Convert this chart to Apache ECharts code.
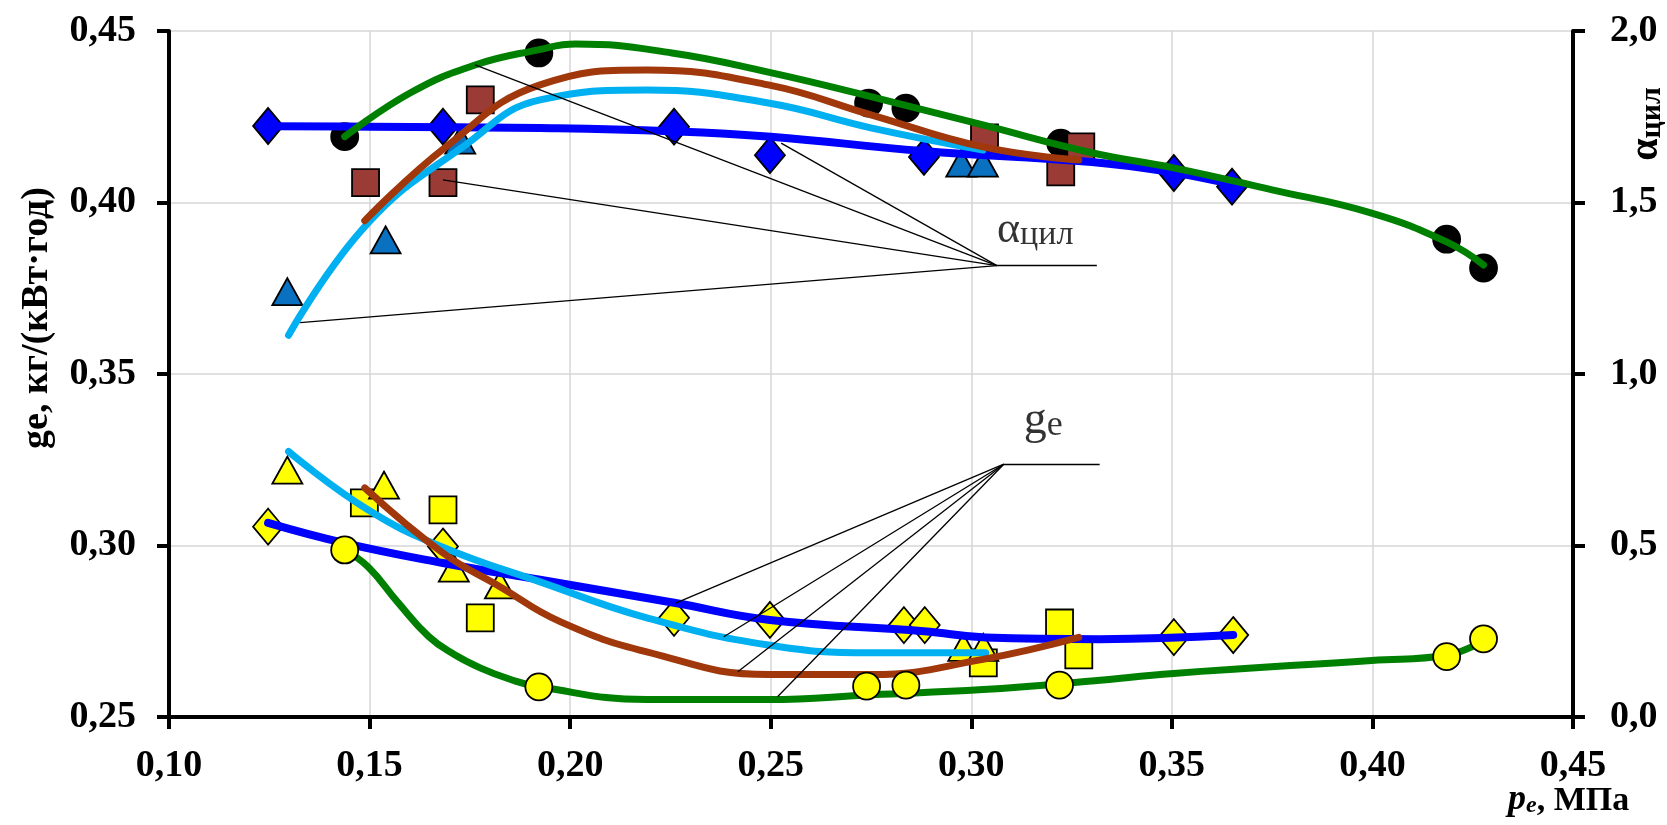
<!DOCTYPE html>
<html>
<head>
<meta charset="utf-8">
<script src="https://cdn.jsdelivr.net/npm/echarts@6.0.0/dist/echarts.min.js"></script>
<style>
  html, body { margin: 0; padding: 0; background: #fff; }
  #chart { width: 1667px; height: 825px; }
</style>
</head>
<body>
<div id="chart"></div>
<script>
// --- α цил (right axis) measured points ---
const alphaDiamondX = [0.1247, 0.1683, 0.2259, 0.2498, 0.2882, 0.3505, 0.365];
const alphaDiamondY = [1.723, 1.721, 1.721, 1.638, 1.633, 1.586, 1.546];
const alphaCircleX = [0.1438, 0.1922, 0.2744, 0.2837, 0.3223, 0.4185, 0.4277];
const alphaCircleY = [1.692, 1.936, 1.790, 1.775, 1.673, 1.393, 1.309];
const alphaSquareX = [0.149, 0.1683, 0.1776, 0.3033, 0.3223, 0.3273];
const alphaSquareY = [1.558, 1.558, 1.799, 1.688, 1.589, 1.662];
const alphaTriangleX = [0.1295, 0.154, 0.1726, 0.2975, 0.3029];
const alphaTriangleY = [1.24, 1.391, 1.682, 1.615, 1.615];

// α trend curves
const alphaBlueCurveX = [0.1247, 0.15, 0.1924, 0.225, 0.25, 0.288, 0.33, 0.35, 0.365];
const alphaBlueCurveY = [1.722, 1.721, 1.717, 1.708, 1.692, 1.650, 1.618, 1.588, 1.553];
const alphaGreenCurveX = [0.1438, 0.1602, 0.1763, 0.192, 0.2014, 0.2254, 0.2494, 0.2752, 0.3029, 0.33, 0.3504, 0.375, 0.3998, 0.4185, 0.4277];
const alphaGreenCurveY = [1.692, 1.82, 1.901, 1.945, 1.962, 1.936, 1.880, 1.808, 1.726, 1.645, 1.601, 1.537, 1.469, 1.385, 1.318];
const alphaBrownCurveX = [0.1488, 0.169, 0.1925, 0.2191, 0.2494, 0.2752, 0.3029, 0.3268];
const alphaBrownCurveY = [1.447, 1.662, 1.843, 1.886, 1.843, 1.755, 1.662, 1.624];
const alphaCyanCurveX = [0.1298, 0.1496, 0.1736, 0.1925, 0.2191, 0.2494, 0.2752, 0.3029];
const alphaCyanCurveY = [1.113, 1.44, 1.665, 1.799, 1.828, 1.790, 1.717, 1.653];

// --- ge (left axis) measured points ---
const geDiamondX = [0.1247, 0.1683, 0.2259, 0.2498, 0.2832, 0.2884, 0.3505, 0.3653];
const geDiamondY = [0.3055, 0.2997, 0.2789, 0.2783, 0.2768, 0.2768, 0.2733, 0.2739];
const geCircleX = [0.1438, 0.1922, 0.2739, 0.2837, 0.322, 0.4185, 0.4277];
const geCircleY = [0.2987, 0.2588, 0.2590, 0.2593, 0.2593, 0.2676, 0.2728];
const geSquareX = [0.1487, 0.1683, 0.1776, 0.303, 0.322, 0.3268];
const geSquareY = [0.3124, 0.3104, 0.2789, 0.2658, 0.2774, 0.2681];
const geTriangleX = [0.1295, 0.1536, 0.171, 0.1825, 0.298, 0.303];
const geTriangleY = [0.322, 0.3176, 0.2934, 0.2885, 0.2703, 0.2703];

// ge trend curves
const geBlueCurveX = [0.1247, 0.1438, 0.1683, 0.1925, 0.2259, 0.2498, 0.2882, 0.3036, 0.332, 0.3653];
const geBlueCurveY = [0.3066, 0.3007, 0.2949, 0.290, 0.2833, 0.2783, 0.2750, 0.2732, 0.2727, 0.2739];
const geGreenCurveX = [0.1438, 0.1496, 0.157, 0.1647, 0.171, 0.178, 0.185, 0.1922, 0.2191, 0.2494, 0.2752, 0.3029, 0.33, 0.3504, 0.3998, 0.4185, 0.4277];
const geGreenCurveY = [0.2987, 0.2938, 0.2835, 0.2735, 0.2683, 0.2641, 0.2610, 0.2588, 0.2551, 0.2551, 0.2565, 0.2580, 0.2605, 0.2627, 0.2665, 0.2680, 0.2723];
const geBrownCurveX = [0.1488, 0.1683, 0.1825, 0.1975, 0.2191, 0.2494, 0.2752, 0.3029, 0.3268];
const geBrownCurveY = [0.3168, 0.2978, 0.288, 0.2778, 0.2690, 0.2624, 0.2624, 0.2668, 0.2732];
const geCyanCurveX = [0.1298, 0.1496, 0.1683, 0.1925, 0.2191, 0.2494, 0.2752, 0.3036];
const geCyanCurveY = [0.3274, 0.3104, 0.2995, 0.2894, 0.2789, 0.271, 0.2687, 0.2687];

// leader lines for the two labels
const alphaLeaderFromX = [0.1763, 0.2526, 0.1683, 0.1327];
const alphaLeaderFromY = [1.901, 1.673, 1.566, 1.150];
const alphaHub = [0.3064, 1.316];
const alphaTailX = 0.3313;
const alphaLabelAt = [0.3064, 1.42];
const geLeaderFromX = [0.2263, 0.2383, 0.2418, 0.2517];
const geLeaderFromY = [0.2832, 0.2734, 0.2632, 0.2559];
const geHub = [0.3081, 0.3237];
const geTailX = 0.332;
const geLabelAt = [0.3131, 0.3363];

// axis ticks
const xTicks = { min: 0.10, max: 0.45, step: 0.05 };
const geTicks = { min: 0.25, max: 0.45, step: 0.05 };
const alphaTicks = { min: 0, max: 2.0, step: 0.5 };

const serif = '"Liberation Serif", "DejaVu Serif", serif';
const zip = (xs, ys) => xs.map((x, i) => [x, ys[i]]);
const comma = d => v => v.toFixed(d).replace('.', ',');

function markers(xs, ys, axis, symbol, size, color, z) {
  return {
    type: 'scatter', yAxisIndex: axis, symbol: symbol, symbolSize: size, z: z,
    silent: true, data: zip(xs, ys),
    itemStyle: { color: color, borderColor: '#000', borderWidth: 1.8, opacity: 1 }
  };
}
function curve(xs, ys, axis, color, width, z) {
  return {
    type: 'line', yAxisIndex: axis, smooth: 0.45, showSymbol: false, z: z,
    silent: true, data: zip(xs, ys),
    lineStyle: { color: color, width: width, cap: 'round', join: 'round' }
  };
}
function leaders(fx, fy, hub, tailX, axis) {
  const segs = fx.map((x, i) => ({ coords: [[x, fy[i]], hub] }));
  segs.push({ coords: [hub, [tailX, hub[1]]] });
  return {
    type: 'lines', coordinateSystem: 'cartesian2d', yAxisIndex: axis, z: 6,
    silent: true, data: segs, lineStyle: { color: '#000', width: 1.3, opacity: 1 }
  };
}
function textAt(pos, axis, fmt, rich) {
  return {
    type: 'scatter', yAxisIndex: axis, symbolSize: 0, z: 7, silent: true,
    data: [pos],
    label: { show: true, position: 'right', distance: 0, color: '#000', formatter: fmt, rich: rich }
  };
}

const axisCommon = {
  axisLine: { show: true, lineStyle: { color: '#000', width: 4 } },
  axisTick: { show: true, length: 12, lineStyle: { color: '#000', width: 4 } },
  axisLabel: { color: '#000', fontFamily: serif, fontWeight: 'bold', fontSize: 38 }
};

const chart = echarts.init(document.getElementById('chart'));
chart.setOption({
  animation: false,
  backgroundColor: '#fff',
  grid: { left: 169, right: 94, top: 31, bottom: 108 },
  xAxis: {
    type: 'value', min: xTicks.min, max: xTicks.max, interval: xTicks.step,
    axisLine: axisCommon.axisLine, axisTick: axisCommon.axisTick,
    axisLabel: Object.assign({}, axisCommon.axisLabel, { margin: 30, formatter: comma(2) }),
    splitLine: { show: true, lineStyle: { color: '#d6d6d6', width: 1.5 } }
  },
  yAxis: [
    {
      type: 'value', position: 'left', min: geTicks.min, max: geTicks.max, interval: geTicks.step,
      axisLine: axisCommon.axisLine, axisTick: axisCommon.axisTick,
      axisLabel: Object.assign({}, axisCommon.axisLabel, { margin: 33, formatter: comma(2) }),
      splitLine: { show: true, lineStyle: { color: '#d6d6d6', width: 1.5 } }
    },
    {
      type: 'value', position: 'right', min: alphaTicks.min, max: alphaTicks.max, interval: alphaTicks.step,
      axisLine: axisCommon.axisLine, axisTick: axisCommon.axisTick,
      axisLabel: Object.assign({}, axisCommon.axisLabel, { margin: 37, formatter: comma(1) }),
      splitLine: { show: false }
    }
  ],
  graphic: [
    {
      type: 'text', x: 37, y: 318, rotation: Math.PI / 2,
      style: {
        text: 'ge, кг/(кВт·год)', fill: '#000', align: 'center', verticalAlign: 'middle',
        font: 'bold 38px ' + serif
      }
    },
    {
      type: 'text', x: 1647, y: 124, rotation: Math.PI / 2,
      style: {
        text: '{a|α}{s|цил}', align: 'center', verticalAlign: 'middle',
        rich: {
          a: { fontFamily: serif, fontWeight: 'bold', fontSize: 40, lineHeight: 40, verticalAlign: 'bottom', fill: '#000' },
          s: { fontFamily: serif, fontWeight: 'bold', fontSize: 30, lineHeight: 22, verticalAlign: 'bottom', fill: '#000' }
        }
      }
    },
    {
      type: 'text', x: 1508, y: 800,
      style: {
        text: '{p|p}{e|e}{m|, МПа}', align: 'left', verticalAlign: 'middle',
        rich: {
          p: { fontFamily: serif, fontStyle: 'italic', fontWeight: 'bold', fontSize: 36, lineHeight: 36, verticalAlign: 'bottom', fill: '#000' },
          e: { fontFamily: serif, fontStyle: 'italic', fontWeight: 'bold', fontSize: 24, lineHeight: 18, verticalAlign: 'bottom', fill: '#000' },
          m: { fontFamily: serif, fontWeight: 'bold', fontSize: 34, lineHeight: 36, verticalAlign: 'bottom', fill: '#000' }
        }
      }
    }
  ],
  series: [
    // α markers
    markers(alphaDiamondX, alphaDiamondY, 1, 'diamond', [30, 36], '#0000ff', 2),
    markers(alphaCircleX, alphaCircleY, 1, 'circle', 27, '#000000', 2),
    markers(alphaSquareX, alphaSquareY, 1, 'rect', 27, '#9a3b35', 2),
    markers(alphaTriangleX, alphaTriangleY, 1, 'triangle', [30, 27], '#0a70c0', 2),
    // α curves
    curve(alphaBlueCurveX, alphaBlueCurveY, 1, '#0000ff', 8, 3),
    curve(alphaCyanCurveX, alphaCyanCurveY, 1, '#00b0f0', 7, 3),
    curve(alphaBrownCurveX, alphaBrownCurveY, 1, '#a0380c', 7, 3),
    curve(alphaGreenCurveX, alphaGreenCurveY, 1, '#008000', 7, 3),
    // ge markers
    markers(geDiamondX, geDiamondY, 0, 'diamond', [30, 36], '#ffff00', 2),
    markers(geSquareX, geSquareY, 0, 'rect', 27, '#ffff00', 2),
    markers(geTriangleX, geTriangleY, 0, 'triangle', [30, 27], '#ffff00', 2),
    // ge curves
    curve(geBlueCurveX, geBlueCurveY, 0, '#0000ff', 8, 3),
    curve(geCyanCurveX, geCyanCurveY, 0, '#00b0f0', 7, 3),
    curve(geBrownCurveX, geBrownCurveY, 0, '#a0380c', 7, 3),
    curve(geGreenCurveX, geGreenCurveY, 0, '#008000', 7, 3),
    markers(geCircleX, geCircleY, 0, 'circle', 27, '#ffff00', 5),
    // annotations
    leaders(alphaLeaderFromX, alphaLeaderFromY, alphaHub, alphaTailX, 1),
    leaders(geLeaderFromX, geLeaderFromY, geHub, geTailX, 0),
    textAt(alphaLabelAt, 1, '{a|α}{s|цил}', {
      a: { fontFamily: serif, fontSize: 44, lineHeight: 44, verticalAlign: 'bottom', color: '#000' },
      s: { fontFamily: serif, fontSize: 34, lineHeight: 26, verticalAlign: 'bottom', color: '#000' }
    }),
    textAt(geLabelAt, 0, '{a|g}{s|e}', {
      a: { fontFamily: serif, fontSize: 46, lineHeight: 46, verticalAlign: 'bottom', color: '#000' },
      s: { fontFamily: serif, fontSize: 36, lineHeight: 26, verticalAlign: 'bottom', color: '#000' }
    })
  ]
});
</script>
</body>
</html>
